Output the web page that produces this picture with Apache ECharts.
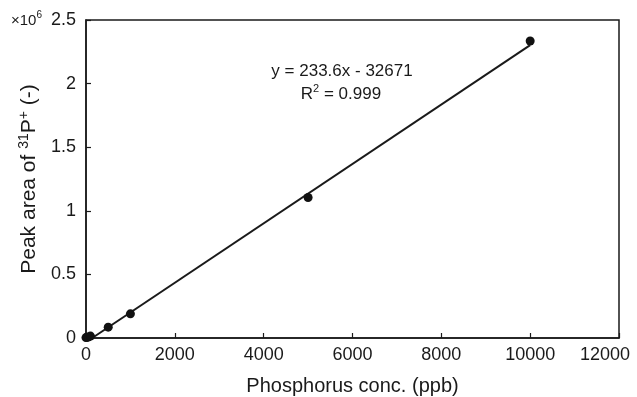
<!DOCTYPE html>
<html>
<head>
<meta charset="utf-8">
<script src="https://cdn.jsdelivr.net/npm/echarts@6/dist/echarts.min.js"></script>
<style>
  html, body { margin: 0; padding: 0; background: #fff; }
  #chart { width: 637px; height: 397px; }
</style>
</head>
<body>
<div id="chart"></div>
<script>
// 标准点 (ppb, 峰面积 x10^6)
var concX = [0, 20, 50, 100, 500, 1000, 5000, 10000]
var peakArea = [0.003, 0.005, 0.008, 0.015, 0.085, 0.19, 1.105, 2.335]

// 回归线 y = 233.6x - 32671 (x10^6)
var fitX = [140, 10000]
var fitY = [0, 2.303]

var xTicks = [0, 2000, 4000, 6000, 8000, 10000, 12000]
var yTicks = [0, 0.5, 1, 1.5, 2, 2.5]

var fontFamily = "'Liberation Sans', Arial, sans-serif"
var black = '#1a1a1a'

var myChart = echarts.init(document.getElementById('chart'))

var option = {
  backgroundColor: '#fff',
  animation: false,
  textStyle: { fontFamily: fontFamily },
  grid: {
    left: 86, right: 18, top: 20, bottom: 59,
    outerBoundsMode: 'none',
    containLabel: false,
    show: true,
    borderColor: black,
    borderWidth: 1.5
  },
  xAxis: {
    type: 'value',
    min: xTicks[0],
    max: xTicks[xTicks.length - 1],
    interval: 2000,
    name: 'Phosphorus conc. (ppb)',
    nameLocation: 'middle',
    nameGap: 38,
    nameTextStyle: { fontSize: 20, color: black, fontFamily: fontFamily },
    axisLine: { lineStyle: { color: black, width: 1.5 } },
    axisTick: { inside: true, length: 5, lineStyle: { color: black, width: 1.2 } },
    axisLabel: {
      fontSize: 18, color: black, margin: 8, fontFamily: fontFamily,
      // 最后一个标签往左挪，避免被裁掉
      formatter: function (v) {
        return v === xTicks[xTicks.length - 1] ? '{r|' + v + '}' : String(v)
      },
      rich: {
        r: { fontSize: 18, color: black, fontFamily: fontFamily, padding: [0, 28, 0, 0] }
      }
    },
    splitLine: { show: false }
  },
  yAxis: {
    type: 'value',
    min: yTicks[0],
    max: yTicks[yTicks.length - 1],
    interval: 0.5,
    name: '{a|Peak area of }{s|31}{a|P}{s|+}{a| (-)}',
    nameLocation: 'middle',
    nameGap: 46,
    nameRotate: 90,
    nameTextStyle: {
      color: black,
      fontFamily: fontFamily,
      rich: {
        a: { fontSize: 21, color: black, lineHeight: 23, verticalAlign: 'bottom', fontFamily: fontFamily },
        s: { fontSize: 14, color: black, lineHeight: 23, verticalAlign: 'top', fontFamily: fontFamily }
      }
    },
    axisLine: { show: true, lineStyle: { color: black, width: 1.5 } },
    axisTick: { inside: true, length: 5, lineStyle: { color: black, width: 1.2 } },
    axisLabel: {
      fontSize: 18, color: black, margin: 10, fontFamily: fontFamily,
      formatter: function (v) { return String(v) }
    },
    splitLine: { show: false }
  },
  graphic: [
    {
      type: 'text', left: 11, top: 10,
      style: {
        text: '{a|×10}{s|6}',
        rich: {
          a: { fontSize: 15, fill: black, lineHeight: 18, verticalAlign: 'bottom', fontFamily: fontFamily },
          s: { fontSize: 10, fill: black, lineHeight: 18, verticalAlign: 'top', fontFamily: fontFamily }
        }
      }
    },
    {
      type: 'text',
      style: {
        x: 342, y: 71, textAlign: 'center', textVerticalAlign: 'middle',
        text: 'y = 233.6x - 32671', fontSize: 17, fill: black, fontFamily: fontFamily
      }
    },
    {
      type: 'text',
      style: {
        x: 341, y: 93, textAlign: 'center', textVerticalAlign: 'middle',
        text: '{a|R}{s|2}{a| = 0.999}',
        rich: {
          a: { fontSize: 17, fill: black, lineHeight: 20, verticalAlign: 'bottom', fontFamily: fontFamily },
          s: { fontSize: 11, fill: black, lineHeight: 20, verticalAlign: 'top', fontFamily: fontFamily }
        }
      }
    }
  ],
  series: [
    {
      name: 'fit',
      type: 'line',
      data: fitX.map(function (x, i) { return [x, fitY[i]] }),
      symbol: 'none',
      lineStyle: { color: black, width: 2 },
      z: 2
    },
    {
      name: 'data',
      type: 'scatter',
      data: concX.map(function (x, i) { return [x, peakArea[i]] }),
      symbol: 'circle',
      symbolSize: 9,
      itemStyle: { color: '#111', opacity: 1 },
      z: 3
    }
  ]
}

myChart.setOption(option, true)
window.addEventListener('resize', function () { myChart.resize() })
</script>
</body>
</html>
